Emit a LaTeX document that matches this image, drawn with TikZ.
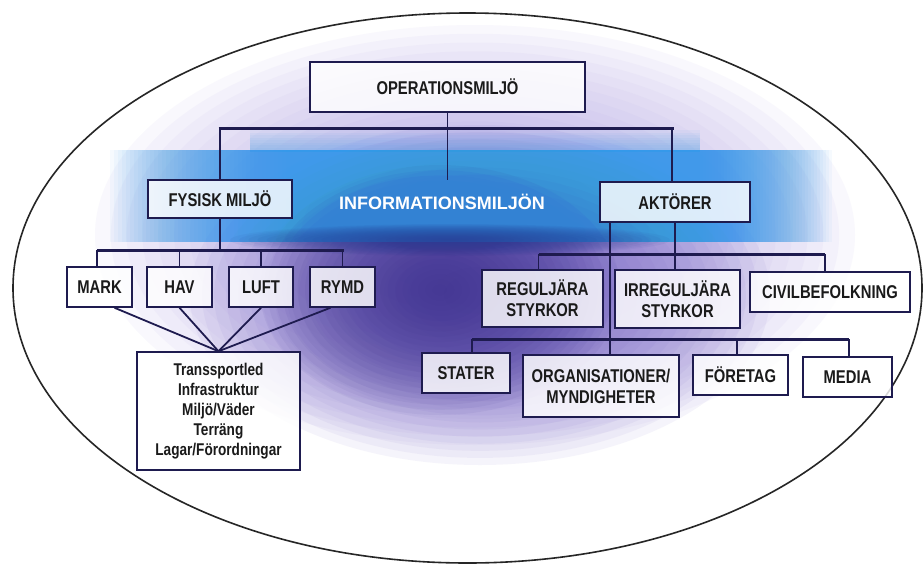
\documentclass[tikz,border=0pt]{standalone}
\usepackage{fontspec}
\setmainfont{Liberation Sans}
\newfontfamily\condfont{Liberation Sans}[FakeStretch=0.8]
\definecolor{navy}{HTML}{1E1B4F}
\definecolor{txt}{HTML}{1A1A1A}
\definecolor{pdark}{HTML}{3A2E8C}
\definecolor{pmid}{HTML}{7563C4}
\definecolor{plight}{HTML}{B4A6E6}
\definecolor{bandblue}{HTML}{3399EA}
\definecolor{banddark}{HTML}{283A92}
% stacked translucent ellipses: colour, cx, cy, rx, ry, opacity
\newcommand\mkglow[6]{%
  \foreach \i in {1,...,24}{%
    \fill[#1, opacity=#6] (#2,#3) ellipse [x radius={#4*\i/24}, y radius={#5*\i/24}];}}
\begin{document}
\begin{tikzpicture}[x=1pt,y=-1pt,
  box/.style={draw=navy, line width=1.5pt, fill=white, fill opacity=0.82, text opacity=1, text=txt, inner sep=0pt, align=center, font=\condfont\bfseries\fontsize{18.5}{21}\selectfont},
  conn/.style={draw=navy, line width=1.8pt},
  bus/.style={draw=navy, line width=3pt},
  infotext/.style={text=white, font=\bfseries\fontsize{18}{21}\selectfont, inner sep=0pt}]
\useasboundingbox (0,0) rectangle (923,565);
\fill[white] (0,0) rectangle (923,565);
% background glows
\mkglow{plight}{475}{235}{380}{210}{0.075}
\mkglow{pmid}{480}{295}{290}{170}{0.065}
\mkglow{pdark}{440}{290}{180}{125}{0.06}
% information band
\foreach \i in {0,...,8}{\fill[bandblue, opacity=0.05] (250,{150-\i*2.5}) rectangle (700,152);}
\foreach \i in {0,...,44}{\fill[bandblue, opacity=0.045] ({110+\i*4},150) rectangle ({832-\i*3},242);}
\mkglow{banddark}{450}{240}{220}{16}{0.06}
% ellipse
\draw[line width=1.6pt, black!85] (467.5,288) ellipse [x radius=454.5, y radius=275];
% nodes
\node[box, minimum width=275pt, minimum height=50pt] (op) at (447.5,87) {OPERATIONSMILJÖ};
\node[box, minimum width=144pt, minimum height=38pt] (fys) at (220,199) {FYSISK MILJÖ};
\node[box, minimum width=150pt, minimum height=40pt] (akt) at (675,202) {AKTÖRER};
\node[infotext] (info) at (442,202) {INFORMATIONSMILJÖN};
\node[box, minimum width=65pt, minimum height=40pt] (mark) at (99.5,287) {MARK};
\node[box, minimum width=65pt, minimum height=40pt] (hav) at (179.5,287) {HAV};
\node[box, minimum width=64pt, minimum height=40pt] (luft) at (261,287) {LUFT};
\node[box, minimum width=65pt, minimum height=40pt] (rymd) at (342.5,287) {RYMD};
\node[box, minimum width=163pt, minimum height=118pt, font=\condfont\bfseries\fontsize{17}{20}\selectfont] (trans) at (218.5,411) {Transsportled\\Infrastruktur\\Miljö/Väder\\Terräng\\Lagar/Förordningar};
\node[box, minimum width=121pt, minimum height=57pt] (reg) at (542.5,298.5) {REGULJÄRA\\STYRKOR};
\node[box, minimum width=125pt, minimum height=58pt] (irr) at (677.5,299) {IRREGULJÄRA\\STYRKOR};
\node[box, minimum width=160pt, minimum height=40pt] (civ) at (830,292) {CIVILBEFOLKNING};
\node[box, minimum width=88pt, minimum height=40pt] (stat) at (466,373) {STATER};
\node[box, minimum width=156pt, minimum height=62pt] (org) at (601,386) {ORGANISATIONER/\\MYNDIGHETER};
\node[box, minimum width=95pt, minimum height=40pt] (fore) at (740.5,375) {FÖRETAG};
\node[box, minimum width=89pt, minimum height=40pt] (med) at (847.5,377) {MEDIA};
% connectors: top level
\coordinate (cend) at (447,180);
\coordinate (b1) at (447,128);
\draw[conn] (op.south) -- (op.south |- cend);
\draw[conn] (fys.north) -- (fys.north |- b1);
\draw[conn] ([xshift=-3pt]akt.north) -- ([xshift=-3pt]akt.north |- b1);
\draw[bus] ([xshift=-1.5pt]fys.north |- b1) -- ([xshift=-1.5pt]akt.north |- b1);
% physical environment
\coordinate (b2) at (220,250);
\draw[conn] (fys.south) -- (b2);
\draw[bus] ([xshift=-2.5pt]mark.north |- b2) -- ([xshift=1pt]rymd.north |- b2);
\draw[conn] ([xshift=-2.5pt]mark.north) -- ([xshift=-2.5pt]mark.north |- b2);
\draw[conn] (hav.north) -- (hav.north |- b2);
\draw[conn] (luft.north) -- (luft.north |- b2);
\draw[conn] (rymd.north) -- (rymd.north |- b2);
\draw[conn] ([xshift=15pt]mark.south) -- (trans.north);
\draw[conn] (hav.south) -- (trans.north);
\draw[conn] (luft.south) -- (trans.north);
\draw[conn] ([xshift=-12pt]rymd.south) -- (trans.north);
% actors
\coordinate (b3) at (675,254);
\coordinate (a2) at ([xshift=-65pt]akt.south);
\draw[conn] (akt.south) -- (akt.south |- irr.north);
\draw[conn] (a2) -- (a2 |- org.north);
\draw[bus] ([xshift=-4pt]reg.north |- b3) -- ([xshift=-5pt]civ.north |- b3);
\draw[conn] ([xshift=-4pt]reg.north) -- ([xshift=-4pt]reg.north |- b3);
\draw[conn] ([xshift=-5pt]civ.north) -- ([xshift=-5pt]civ.north |- b3);
\coordinate (b4) at (610,339);
\draw[bus] ([xshift=6pt]stat.north |- b4) -- ([xshift=1.5pt]med.north |- b4);
\draw[conn] ([xshift=6pt]stat.north) -- ([xshift=6pt]stat.north |- b4);
\draw[conn] ([xshift=-3.5pt]fore.north) -- ([xshift=-3.5pt]fore.north |- b4);
\draw[conn] ([xshift=1.5pt]med.north) -- ([xshift=1.5pt]med.north |- b4);
\end{tikzpicture}
\end{document}
